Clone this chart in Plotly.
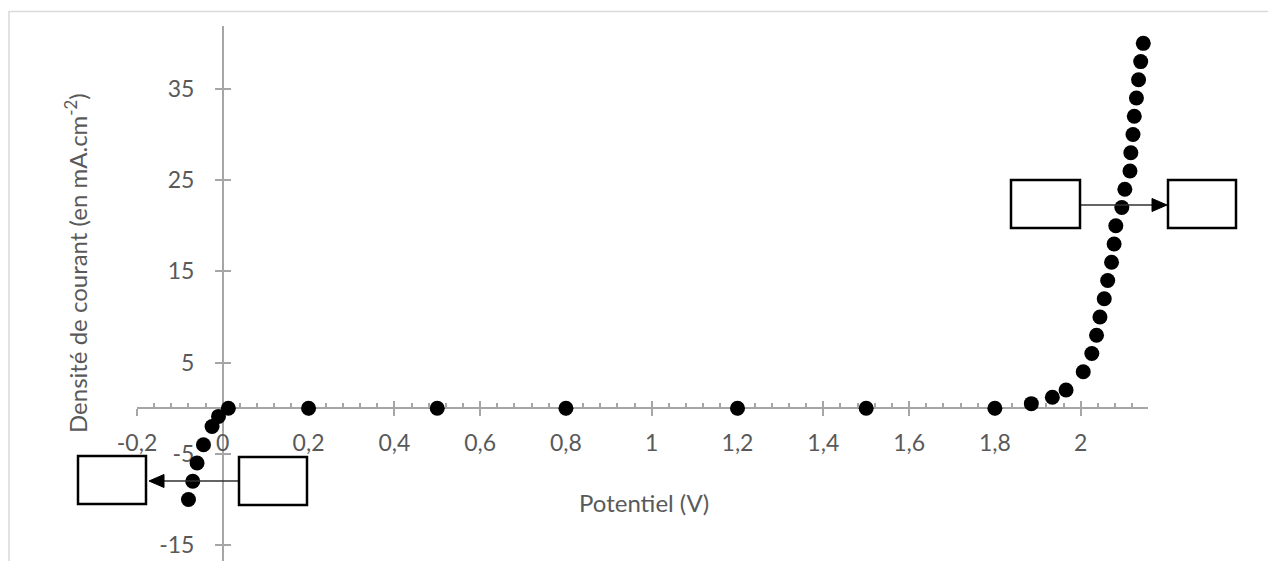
import plotly.graph_objects as go

# ---------------- data ----------------
potentiel = [-0.08, -0.07, -0.06, -0.045, -0.025, -0.01, 0.013,
             0.2, 0.5, 0.8, 1.2, 1.5, 1.8,
             1.885, 1.934, 1.966, 2.006, 2.026, 2.037, 2.045, 2.055, 2.063,
             2.072, 2.078, 2.082, 2.096, 2.103, 2.115, 2.117, 2.122, 2.125,
             2.130, 2.135, 2.140, 2.146]
densite = [-10, -8, -6, -4, -2, -0.9, 0,
           0, 0, 0, 0, 0, 0,
           0.5, 1.2, 2, 4, 6, 8, 10, 12, 14,
           16, 18, 20, 22, 24, 26, 28, 30, 32,
           34, 36, 38, 40]

x_tickvals = [-0.2, 0, 0.2, 0.4, 0.6, 0.8, 1, 1.2, 1.4, 1.6, 1.8, 2]
x_ticktext = ["-0,2", "0", "0,2", "0,4", "0,6", "0,8", "1", "1,2", "1,4", "1,6", "1,8", "2"]
y_tickvals = [-15, -5, 5, 15, 25, 35]
y_ticktext = ["-15", "-5", "5", "15", "25", "35"]

x_title = "Potentiel (V)"
y_title = "Densité de courant (en mA.cm<sup>-2</sup>)"

# ---------------- layout geometry ----------------
OFF = 8                       # page body margin
W, H = 1276 - OFF, 561 - OFF  # figure size
PL, PR, PT, PB = 137, 1148, 26, 561   # plot area in page pixels
ML, MR, MT, MB = PL - OFF, 1276 - PR, PT - OFF, 0
XR = [-0.2, 2.157]
YR = [-16.75, 41.9]
AX_COL = "#A6A6A6"
TXT_COL = "#595959"
FONT = "Lato"

def px_x(p):
    return (p - PL) / (PR - PL)

def px_y(p):
    return (PB - p) / (PB - PT)

x_pos = (0 - YR[0]) / (YR[1] - YR[0])   # x-axis sits at y = 0
y_pos = (0 - XR[0]) / (XR[1] - XR[0])   # y-axis sits at x = 0

fig = go.Figure()
fig.add_trace(go.Scatter(
    x=potentiel, y=densite, mode="markers",
    marker=dict(color="black", size=15, line=dict(width=0)),
    showlegend=False, cliponaxis=False, hoverinfo="skip"))
# helper invisible trace for overlay axes
fig.add_trace(go.Scatter(x=[XR[0]], y=[YR[0]], xaxis="x2", yaxis="y2",
                         mode="markers", marker=dict(opacity=0),
                         showlegend=False, hoverinfo="skip"))

tick_font = dict(family=FONT, size=23, color=TXT_COL)
title_font = dict(family=FONT, size=24, color=TXT_COL)

fig.update_layout(
    width=W, height=H,
    margin=dict(l=ML, r=MR, t=MT, b=MB, pad=0),
    paper_bgcolor="white", plot_bgcolor="white",
    font=tick_font,
    xaxis=dict(range=XR, anchor="free", position=x_pos, layer="below traces",
               showline=True, linecolor=AX_COL, linewidth=1.5,
               showgrid=False, zeroline=False,
               tickmode="array", tickvals=x_tickvals, ticktext=x_ticktext,
               ticks="outside", ticklen=7, tickwidth=1.5, tickcolor=AX_COL,
               ticklabelstandoff=7, tickfont=tick_font),
    xaxis2=dict(range=XR, overlaying="x", anchor="free", position=x_pos,
                layer="below traces",
                showline=False, showgrid=False, zeroline=False,
                tickmode="array", tickvals=x_tickvals, showticklabels=False,
                ticks="inside", ticklen=7, tickwidth=1.5, tickcolor=AX_COL,
                minor=dict(ticks="inside", ticklen=5, tickwidth=1.5,
                           tickcolor=AX_COL, tick0=-0.2, dtick=0.04, showgrid=False)),
    yaxis=dict(range=YR, anchor="free", position=y_pos, layer="below traces",
               showline=True, linecolor=AX_COL, linewidth=1.5,
               showgrid=False, zeroline=False,
               tickmode="array", tickvals=y_tickvals, ticktext=y_ticktext,
               ticks="outside", ticklen=7, tickwidth=1.5, tickcolor=AX_COL,
               ticklabelstandoff=16, tickfont=tick_font),
    yaxis2=dict(range=YR, overlaying="y", anchor="free", position=y_pos,
                layer="below traces",
                showline=False, showgrid=False, zeroline=False,
                tickmode="array", tickvals=y_tickvals, showticklabels=False,
                ticks="inside", ticklen=7, tickwidth=1.5, tickcolor=AX_COL),
)

shapes = []
# chart border
shapes.append(dict(type="rect", xref="paper", yref="paper",
                   x0=px_x(9), x1=px_x(1300), y0=px_y(11.5), y1=px_y(620),
                   line=dict(color="#D9D9D9", width=1.5), fillcolor="rgba(0,0,0,0)",
                   layer="below"))
# arrows (line + filled head): (tail_x, tip_x, y)
for (tail, tip, ay) in [(239, 149, 481), (1080, 1167, 205)]:
    d = 1 if tip > tail else -1
    base = tip - d * 15
    shapes.append(dict(type="line", xref="paper", yref="paper",
                       x0=px_x(tail), x1=px_x(base), y0=px_y(ay), y1=px_y(ay),
                       line=dict(color="#303030", width=1.5), layer="above"))
    path = "M {} {} L {} {} L {} {} Z".format(
        px_x(tip), px_y(ay), px_x(base), px_y(ay - 6.5), px_x(base), px_y(ay + 6.5))
    shapes.append(dict(type="path", xref="paper", yref="paper", path=path,
                       line=dict(color="black", width=1), fillcolor="black",
                       layer="above"))
# annotation boxes
for (bx0, by0, bx1, by1) in [(78, 456, 146, 504), (239, 457, 307, 505),
                             (1011, 180, 1080, 228), (1168, 180, 1236, 228)]:
    shapes.append(dict(type="rect", xref="paper", yref="paper",
                       x0=px_x(bx0), x1=px_x(bx1), y0=px_y(by1), y1=px_y(by0),
                       line=dict(color="black", width=2.5), fillcolor="white",
                       layer="above"))
fig.update_layout(shapes=shapes)

annotations = [
    dict(text=x_title, xref="paper", yref="paper", x=px_x(644), y=px_y(502),
         xanchor="center", yanchor="middle", showarrow=False, font=title_font),
    dict(text=y_title, xref="paper", yref="paper", x=px_x(76), y=px_y(263),
         xanchor="center", yanchor="middle",
         textangle=-90, showarrow=False, font=title_font),
]
fig.update_layout(annotations=annotations)

fig.write_html("out.html")
